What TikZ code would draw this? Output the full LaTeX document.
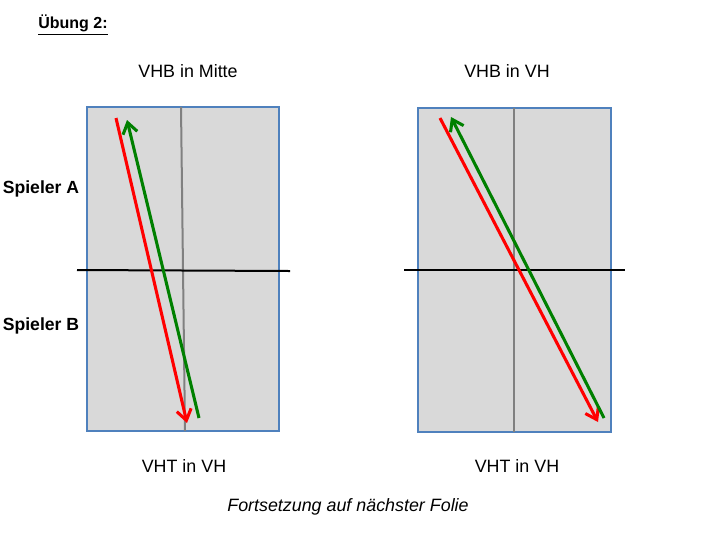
\documentclass[tikz,border=0pt]{standalone}
\usepackage{fontspec}
\setmainfont{Liberation Sans}
\usetikzlibrary{arrows.meta, positioning}
\definecolor{fieldgray}{HTML}{D9D9D9}
\definecolor{fieldblue}{HTML}{4F81BD}
\definecolor{ballred}{HTML}{FF0000}
\definecolor{ballgreen}{HTML}{008000}
\tikzset{
  field/.style={draw=fieldblue, line width=1.5pt, fill=fieldgray},
  midline/.style={draw=gray, line width=1.5pt},
  netline/.style={draw=black, line width=1.5pt},
  ball/.style={line width=2.3pt, -{Straight Barb[length=8pt, width=11pt, line width=2.3pt]}},
  lbl/.style={font=\fontsize{13.4}{15}\selectfont},
}

\begin{document}
\begin{tikzpicture}[x=0.75pt, y=-0.75pt]
  \useasboundingbox (0,0) rectangle (720,540);

  % titles
  \node[font=\fontsize{12}{14}\selectfont\bfseries, anchor=west, inner sep=0pt] (title) at (38,25) {\underline{Übung 2:}};
  \node[lbl] (topL) at (188,71) {VHB in Mitte};
  \node[lbl] (topR) at (507,71) {VHB in VH};
  \node[lbl, font=\fontsize{13.2}{15}\selectfont\bfseries] (spA) at (41,189) {Spieler A};
  \node[lbl, font=\fontsize{13.2}{15}\selectfont\bfseries] (spB) at (41,326) {Spieler B};
  \node[lbl] (botL) at (184,466) {VHT in VH};
  \node[lbl] (botR) at (517,466) {VHT in VH};
  \node[lbl, font=\fontsize{13.4}{15}\selectfont\itshape] (note) at (348,507) {Fortsetzung auf nächster Folie};

  % left field
  \draw[field] (87,107) rectangle (279,431);
  \coordinate (midLt) at (181,107);
  \coordinate (midLb) at (185,431);
  \draw[midline] (midLt) -- (midLb);
  \coordinate (netLa) at (77,270);
  \coordinate (netLb) at (290,271);
  \draw[netline] (netLa) -- (netLb);
  \coordinate (redLs) at (116,118);
  \coordinate (redLe) at (187,423);
  \coordinate (grnLs) at (199,418);
  \coordinate (grnLe) at (127,120);
  \draw[ball, ballred] (redLs) -- (redLe);
  \draw[ball, ballgreen] (grnLs) -- (grnLe);

  % right field
  \draw[field] (418,108) rectangle (611,432);
  \coordinate (midRt) at (514,108);
  \coordinate (midRb) at (514,432);
  \draw[midline] (midRt) -- (midRb);
  \coordinate (netRa) at (404,270);
  \coordinate (netRb) at (625,270);
  \draw[netline] (netRa) -- (netRb);
  \coordinate (redRs) at (440,118);
  \coordinate (redRe) at (598,422);
  \coordinate (grnRs) at (604,418);
  \coordinate (grnRe) at (451,117);
  \draw[ball, ballred] (redRs) -- (redRe);
  \draw[ball, ballgreen] (grnRs) -- (grnRe);
\end{tikzpicture}
\end{document}
